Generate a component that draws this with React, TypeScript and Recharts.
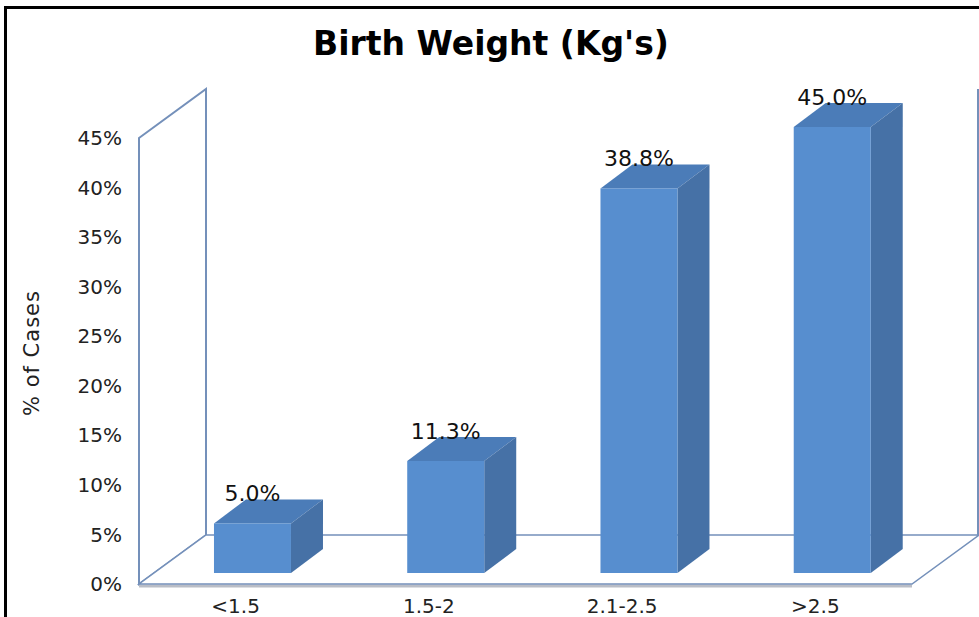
import React from "react";
import {
  Bar,
  BarChart,
  LabelList,
  ReferenceArea,
  XAxis,
  YAxis,
} from "recharts";

const categories = ["<1.5", "1.5-2", "2.1-2.5", ">2.5"];
const casePercents = [5.0, 11.3, 38.8, 45.0];
const percentTicks = [0, 5, 10, 15, 20, 25, 30, 35, 40, 45];

const chartData = categories.map((name, i) => ({ name, value: casePercents[i] }));

const FONT = "'DejaVu Sans', Verdana, sans-serif";

// depth of the box walls and of each bar (pseudo 3d)
const WALL_DX = 67;
const WALL_DY = -49;
const BAR_SHIFT_X = 17;
const BAR_SHIFT_Y = -11;
const BAR_DX = 32;
const BAR_DY = -24;

const FRONT = "#578ecf";
const TOP = "#4b7cb8";
const SIDE = "#4671a6";
const WALL_STROKE = "#7490ba";

const Walls = (props: any) => {
  const { x, y, width, height } = props;
  const bottom = y + height;
  const right = x + width;
  return (
    <g>
      {/* side wall */}
      <polygon
        points={`${x},${y} ${x + WALL_DX},${y + WALL_DY} ${x + WALL_DX},${bottom + WALL_DY} ${x},${bottom}`}
        fill="#fff"
        stroke={WALL_STROKE}
        strokeWidth={2}
      />
      {/* back wall right edge */}
      <line
        x1={right + WALL_DX - 1}
        y1={y + WALL_DY}
        x2={right + WALL_DX - 1}
        y2={bottom + WALL_DY}
        stroke={WALL_STROKE}
        strokeWidth={2}
      />
      {/* floor */}
      <rect x={x} y={bottom + 0.5} width={width} height={3} fill="#b9bdc6" />
      <polygon
        points={`${x},${bottom} ${x + WALL_DX},${bottom + WALL_DY} ${right + WALL_DX},${bottom + WALL_DY} ${right},${bottom}`}
        fill="#fff"
        stroke={WALL_STROKE}
        strokeWidth={1.5}
      />
    </g>
  );
};

const Bar3D = (props: any) => {
  const { x, y, width, height } = props;
  const fx = x + BAR_SHIFT_X;
  const fy = y + BAR_SHIFT_Y;
  const r = fx + width;
  return (
    <g>
      <polygon
        points={`${fx},${fy} ${fx + BAR_DX},${fy + BAR_DY} ${r + BAR_DX},${fy + BAR_DY} ${r},${fy}`}
        fill={TOP}
      />
      <polygon
        points={`${r},${fy} ${r + BAR_DX},${fy + BAR_DY} ${r + BAR_DX},${fy + height + BAR_DY} ${r},${fy + height}`}
        fill={SIDE}
      />
      <rect x={fx} y={fy} width={width} height={height} fill={FRONT} />
    </g>
  );
};

const ValueLabel = (props: any) => {
  const { x, y, width, value } = props;
  return (
    <text
      x={x + width / 2 + BAR_SHIFT_X}
      y={y + BAR_SHIFT_Y - 22}
      textAnchor="middle"
      fontFamily={FONT}
      fontSize={22}
      fill="#111"
    >
      {`${Number(value).toFixed(1)}%`}
    </text>
  );
};

const YTitle = (props: any) => {
  const { viewBox } = props;
  const cx = viewBox.x + 32;
  const cy = viewBox.y + viewBox.height / 2 - 8;
  return (
    <text
      x={cx}
      y={cy}
      transform={`rotate(-90, ${cx}, ${cy})`}
      textAnchor="middle"
      dominantBaseline="central"
      fontFamily={FONT}
      fontSize={21}
      letterSpacing={1}
      fill="#222"
    >
      % of Cases
    </text>
  );
};

export default function App() {
  return (
    <div
      style={{
        position: "absolute",
        left: 0,
        top: 0,
        width: 979,
        height: 617,
        background: "#fff",
        overflow: "hidden",
      }}
    >
      <BarChart
        width={979}
        height={617}
        data={chartData}
        margin={{ top: 138, right: 67, bottom: 0, left: 0 }}
        barCategoryGap="30%"
      >
        <XAxis
          dataKey="name"
          height={33}
          axisLine={false}
          tickLine={false}
          tickSize={0}
          tickMargin={15}
          tick={{ fontFamily: FONT, fontSize: 20, fill: "#222" }}
        />
        <YAxis
          width={139}
          domain={[0, 45]}
          ticks={percentTicks}
          tickFormatter={(v: number) => `${v}%`}
          axisLine={false}
          tickLine={false}
          tickSize={0}
          tickMargin={17}
          tick={{ fontFamily: FONT, fontSize: 20, fill: "#222" }}
          label={<YTitle />}
        />
        <ReferenceArea y1={0} y2={45} shape={Walls} ifOverflow="visible" />
        <Bar dataKey="value" shape={Bar3D} isAnimationActive={false}>
          <LabelList dataKey="value" content={ValueLabel} />
        </Bar>
      </BarChart>
      <svg
        width={979}
        height={617}
        style={{ position: "absolute", left: 0, top: 0, pointerEvents: "none" }}
      >
        <line x1={5.5} y1={6} x2={5.5} y2={617} stroke="#000" strokeWidth={3} />
        <line x1={4} y1={7.5} x2={979} y2={7.5} stroke="#000" strokeWidth={3} />
        <text
          x={491}
          y={55}
          textAnchor="middle"
          fontFamily={FONT}
          fontWeight="bold"
          fontSize={33}
          fill="#000"
        >
          Birth Weight (Kg's)
        </text>
      </svg>
    </div>
  );
}
